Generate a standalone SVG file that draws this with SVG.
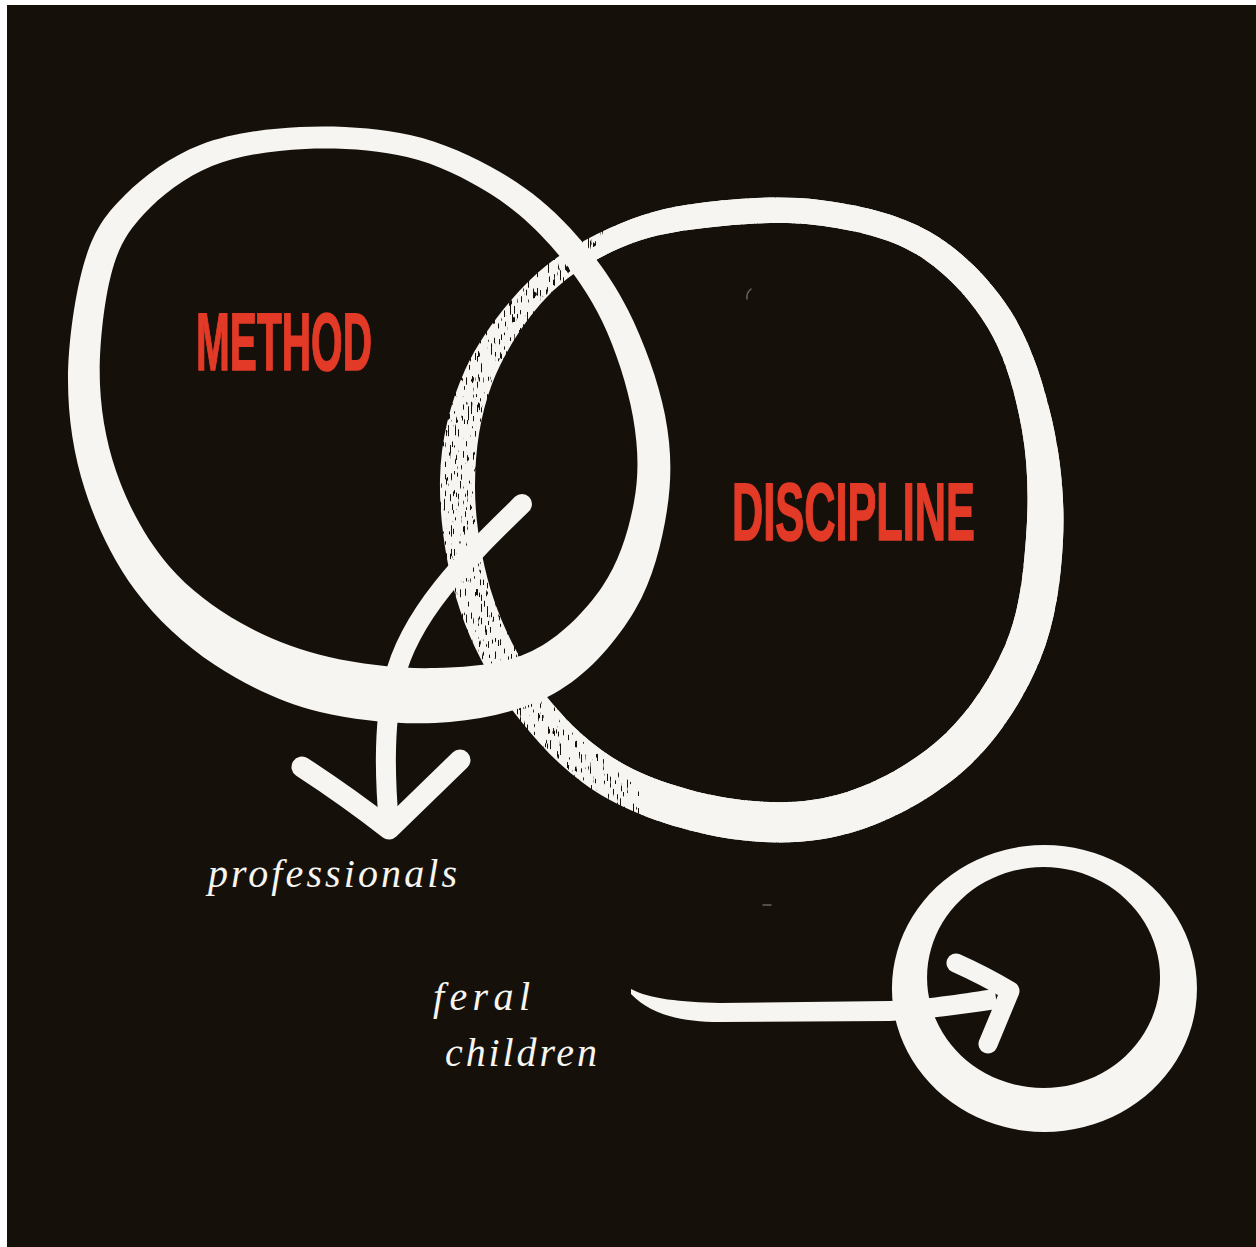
<svg xmlns="http://www.w3.org/2000/svg" width="1256" height="1247" viewBox="0 0 1256 1247">
  <defs>
    <filter id="drybrush" filterUnits="userSpaceOnUse" x="0" y="0" width="1256" height="1247">
      <feTurbulence type="fractalNoise" baseFrequency="0.7 0.08" numOctaves="2" seed="7" result="noise"/>
      <feColorMatrix in="noise" type="matrix" values="0 0 0 0 0  0 0 0 0 0  0 0 0 0 0  0 0 0 -22 15.2" result="holes"/>
      <feComposite in="SourceGraphic" in2="holes" operator="in"/>
    </filter>
    <clipPath id="cleanHalf">
      <path d="M640,0 L1256,0 L1256,1247 L660,1247 L640,790 L560,722 L520,600 L520,400 L560,300 L600,250 Z"/>
    </clipPath>
    <path id="ringDshape" d="M700,203 C735,198.3 781.7,195.2 820,200 C858.3,204.8 898.3,213.7 930,232 C961.7,250.3 989.7,278.7 1010,310 C1030.3,341.3 1043.2,381.7 1052,420 C1060.8,458.3 1065,500 1063,540 C1061,580 1055.5,622.5 1040,660 C1024.5,697.5 1000,736.7 970,765 C940,793.3 898.3,817.5 860,830 C821.7,842.5 781.7,845 740,840 C698.3,835 646.7,820 610,800 C573.3,780 545,751.7 520,720 C495,688.3 473.3,650 460,610 C446.7,570 439.2,520 440,480 C440.8,440 450,403.3 465,370 C480,336.7 505.8,303.7 530,280 C554.2,256.3 581.7,240.8 610,228 C638.3,215.2 665,207 700,203 Z
      M704,228 C736.5,224.2 779.7,220.7 815,225 C850.3,229.3 887.2,236.8 916,254 C944.8,271.2 970.3,298.7 988,328 C1005.7,357.3 1015.7,395 1022,430 C1028.3,465 1028.7,502.5 1026,538 C1023.3,573.5 1019.7,610.2 1006,643 C992.3,675.8 970.5,710.2 944,735 C917.5,759.8 880.7,781.2 847,792 C813.3,802.8 778.7,804.3 742,800 C705.3,795.7 659.5,783.2 627,766 C594.5,748.8 569.2,724.7 547,697 C524.8,669.3 506,635.3 494,600 C482,564.7 474.7,521 475,485 C475.3,449 480.2,415.2 492,384 C503.8,352.8 524.7,320.7 546,298 C567.3,275.3 593.7,259.7 620,248 C646.3,236.3 671.5,231.8 704,228 Z"/>
  </defs>
  <style>
    .ink { fill: #f6f5f1; fill-rule: evenodd; }
    .brush { fill: none; stroke: #f6f5f1; stroke-linecap: round; stroke-linejoin: round; }
    .title { font-family: "Liberation Sans Narrow", "Liberation Sans", Arial, sans-serif; font-weight: bold; font-size: 82px; fill: #e33a27; stroke: #e33a27; stroke-width: 1.6px; }
    .label { font-family: "Liberation Serif", "Times New Roman", serif; font-style: italic; font-size: 40px; fill: #f6f5f1; }
    .speck { fill: none; stroke: #8a8780; stroke-width: 1.5; stroke-linecap: round; opacity: 0.7; }
  </style>
  <rect x="0" y="0" width="1256" height="1247" fill="#ffffff"/>
  <rect id="bg" x="7" y="5" width="1249" height="1242" fill="#15110a"/>
  <path class="speck" d="M751,289 Q746,293 747,299"/>
  <path class="speck" d="M763,905 L771,905"/>

  <g id="node-discipline">
    <use href="#ringDshape" class="ink" filter="url(#drybrush)"/>
    <use href="#ringDshape" class="ink" clip-path="url(#cleanHalf)"/>
    <text class="title" x="732" y="540" textLength="243" lengthAdjust="spacingAndGlyphs">DISCIPLINE</text>
  </g>

  <g id="node-method">
    <path class="ink" d="M300,127 C335,125.3 376.7,127.5 410,135 C443.3,142.5 473.3,156.5 500,172 C526.7,187.5 548.7,205 570,228 C591.3,251 612.2,278.8 628,310 C643.8,341.2 658.5,381.7 665,415 C671.5,448.3 672,477.5 667,510 C662,542.5 652.8,580 635,610 C617.2,640 590.8,671.3 560,690 C529.2,708.7 490,718.3 450,722 C410,725.7 359.2,721.5 320,712 C280.8,702.5 245.8,685.3 215,665 C184.2,644.7 156.7,619.2 135,590 C113.3,560.8 96.2,525 85,490 C73.8,455 68,418.3 68,380 C68,341.7 75.5,290.8 85,260 C94.5,229.2 105.8,214.2 125,195 C144.2,175.8 170.8,156.3 200,145 C229.2,133.7 265,128.7 300,127 Z
      M305,149 C337.5,147.5 376.3,149.7 407,157 C437.7,164.3 465,178.2 489,193 C513,207.8 532.2,224.7 551,246 C569.8,267.3 588.3,292.5 602,321 C615.7,349.5 627.7,386.8 633,417 C638.3,447.2 639.2,473.7 634,502 C628.8,530.3 619,562.2 602,587 C585,611.8 559.8,637.5 532,651 C504.2,664.5 468.8,667 435,668 C401.2,669 361.3,664.5 329,657 C296.7,649.5 267.7,638.2 241,623 C214.3,607.8 189.2,589.5 169,566 C148.8,542.5 131.5,512.2 120,482 C108.5,451.8 101.5,419.5 100,385 C98.5,350.5 103.7,303.5 111,275 C118.3,246.5 127.2,232.2 144,214 C160.8,195.8 185.2,176.8 212,166 C238.8,155.2 272.5,150.5 305,149 Z"/>
    <text class="title" x="196" y="370" textLength="176" lengthAdjust="spacingAndGlyphs">METHOD</text>
  </g>

  <g id="node-feral">
    <path class="ink" d="M1044.5,845 A152.5,143.5 0 1 1 1044.4,845 Z M1043.5,867 A116.5,110.5 0 1 0 1043.6,867 Z"/>
  </g>

  <g id="label-professionals">
    <text class="label" x="208" y="887" textLength="249" lengthAdjust="spacing">professionals</text>
  </g>
  <g id="label-feral-children">
    <text class="label" x="433" y="1010" textLength="97" lengthAdjust="spacing">feral</text>
    <text class="label" x="445" y="1066" textLength="152" lengthAdjust="spacing">children</text>
  </g>

  <g id="connectors">
    <g id="arrow-professionals">
      <path class="brush" stroke-width="20" d="M522,504 C470,555 410,612 394,680 C382,730 386,790 389,826"/>
      <path class="brush" stroke-width="21" d="M302,767 Q348,797 389,829 L460,760"/>
    </g>
    <g id="arrow-feral">
      <path fill="#f6f5f1" d="M631,989 C650,999 680,1002 720,1003 L890,1001 C935,999 965,993 995,989 L997,1009 C962,1014 930,1019 890,1021 L720,1022 C680,1022 650,1014 631,994 Z"/>
      <path class="brush" stroke-width="19" d="M956,963 Q985,976 1010,991 L988,1044"/>
    </g>
  </g>
</svg>
